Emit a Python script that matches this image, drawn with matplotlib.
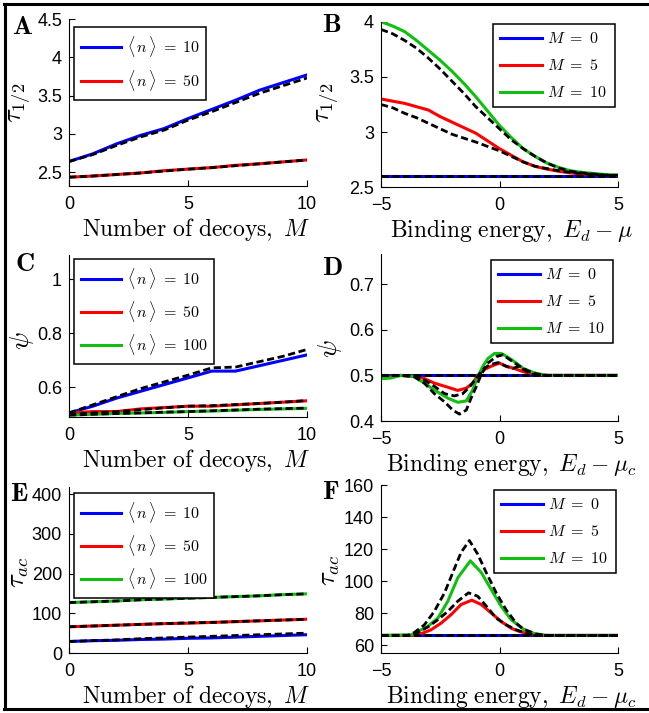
import matplotlib
matplotlib.use('Agg')
import matplotlib.pyplot as plt
from matplotlib.lines import Line2D

plt.rcParams['font.family'] = 'Liberation Sans'
plt.rcParams['mathtext.fontset'] = 'cm'

# ---- data ----
decoys = [0, 1, 2, 3, 4, 5, 6, 7, 8, 9, 10]

# A: tau_1/2 vs number of decoys
A_n10 = [2.64, 2.74, 2.87, 2.98, 3.07, 3.20, 3.32, 3.44, 3.57, 3.67, 3.77]
A_n10_th = [2.64, 2.73, 2.85, 2.96, 3.05, 3.18, 3.29, 3.41, 3.53, 3.63, 3.73]
A_n50 = [2.435, 2.45, 2.47, 2.49, 2.52, 2.54, 2.56, 2.59, 2.61, 2.635, 2.66]
A_n50_th = [2.435, 2.45, 2.47, 2.49, 2.515, 2.54, 2.56, 2.585, 2.61, 2.635, 2.66]

# B: tau_1/2 vs binding energy
energy = [-5, -4.5, -4, -3.5, -3, -2.5, -2, -1.5, -1, -0.5, 0,
          0.5, 1, 1.5, 2, 2.5, 3, 3.5, 4, 4.5, 5]
B_M0 = [2.605] * 21
B_M5 = [3.30, 3.28, 3.26, 3.23, 3.20, 3.14, 3.09, 3.04, 2.99, 2.92, 2.85,
        2.79, 2.73, 2.69, 2.665, 2.645, 2.63, 2.62, 2.615, 2.61, 2.605]
B_M5_th = [3.25, 3.22, 3.17, 3.13, 3.08, 3.03, 2.98, 2.945, 2.91, 2.87, 2.83,
           2.78, 2.73, 2.69, 2.67, 2.65, 2.635, 2.625, 2.615, 2.61, 2.605]
B_M10 = [4.00, 3.96, 3.91, 3.83, 3.74, 3.65, 3.55, 3.44, 3.32, 3.19, 3.06,
         2.95, 2.85, 2.78, 2.72, 2.68, 2.65, 2.635, 2.625, 2.615, 2.61]
B_M10_th = [3.93, 3.89, 3.83, 3.76, 3.67, 3.57, 3.46, 3.35, 3.23, 3.13, 3.03,
            2.93, 2.85, 2.78, 2.72, 2.675, 2.645, 2.63, 2.62, 2.61, 2.61]

# C: psi vs number of decoys
C_n10 = [0.505, 0.53, 0.56, 0.585, 0.61, 0.635, 0.66, 0.66, 0.68, 0.70, 0.72]
C_n10_th = [0.505, 0.535, 0.565, 0.595, 0.62, 0.645, 0.672, 0.675, 0.695, 0.715, 0.74]
C_n50 = [0.505, 0.51, 0.51, 0.52, 0.525, 0.53, 0.53, 0.535, 0.54, 0.545, 0.55]
C_n50_th = [0.50, 0.505, 0.51, 0.517, 0.524, 0.53, 0.532, 0.536, 0.54, 0.545, 0.551]
C_n100 = [0.497, 0.50, 0.503, 0.505, 0.507, 0.51, 0.512, 0.515, 0.518, 0.52, 0.522]
C_n100_th = [0.497, 0.50, 0.503, 0.505, 0.508, 0.51, 0.513, 0.516, 0.519, 0.521, 0.523]

# D: psi vs binding energy
D_M0_x = [-5, 5]
D_M0 = [0.5, 0.5]
D_M5_x = [-5, -4.2, -3.6, -3.17, -2.75, -2.18, -1.76, -1.4, -1.13, -0.92, -0.63,
          -0.35, 0.0, 0.28, 0.63, 1.0, 1.5, 2.0, 5]
D_M5 = [0.493, 0.5, 0.498, 0.493, 0.483, 0.474, 0.467, 0.472, 0.483, 0.5, 0.513,
        0.52, 0.527, 0.52, 0.515, 0.508, 0.502, 0.5, 0.5]
D_M5_th_x = [-5, -4.2, -3.6, -3.17, -2.75, -2.32, -1.9, -1.55, -1.27, -0.99, -0.7,
             -0.42, -0.07, 0.28, 0.56, 0.8, 1.1, 1.5, 5]
D_M5_th = [0.5, 0.5, 0.5, 0.49, 0.476, 0.46, 0.455, 0.46, 0.474, 0.493, 0.513,
           0.523, 0.528, 0.52, 0.515, 0.52, 0.51, 0.5, 0.5]
D_M10_x = [-5, -4.6, -4.15, -3.6, -3.17, -2.75, -2.18, -1.76, -1.4, -1.13, -0.92,
           -0.7, -0.49, -0.21, 0.07, 0.35, 0.63, 1.0, 1.5, 2.0, 5]
D_M10 = [0.493, 0.494, 0.5, 0.497, 0.483, 0.468, 0.45, 0.441, 0.444, 0.468, 0.497,
         0.52, 0.537, 0.548, 0.548, 0.54, 0.53, 0.515, 0.505, 0.5, 0.5]
D_M10_th_x = [-5, -4.2, -3.6, -3.17, -2.75, -2.32, -1.97, -1.69, -1.4, -1.2, -0.99,
              -0.77, -0.49, -0.14, 0.14, 0.56, 0.85, 1.2, 1.6, 2.0, 5]
D_M10_th = [0.5, 0.5, 0.497, 0.483, 0.46, 0.442, 0.424, 0.415, 0.424, 0.45, 0.474,
            0.502, 0.527, 0.541, 0.545, 0.53, 0.52, 0.51, 0.503, 0.5, 0.5]

# E: tau_ac vs number of decoys
E_n10 = [29, 31, 32, 34, 35, 37, 38, 40, 42, 44, 46]
E_n10_th = [29, 31, 33, 36, 38, 40, 42, 44, 46, 48, 50]
E_n50 = [66, 68, 70, 72, 74, 75, 77, 79, 81, 83, 85]
E_n50_th = [66, 68, 70, 72, 74, 76, 77, 79, 81, 83, 85]
E_n100 = [127, 129, 131, 134, 136, 138, 140, 142, 144, 147, 149]
E_n100_th = [127, 129, 131, 134, 136, 138, 140, 142, 144, 147, 149]

# F: tau_ac vs binding energy
F_M0_x = [-5, 5]
F_M0 = [66, 66]
F_M5_x = [-5, -3.59, -3.31, -2.89, -2.46, -2.04, -1.62, -1.17, -0.77, -0.35,
          0.07, 0.49, 0.85, 1.5, 5]
F_M5 = [66, 66, 67, 69.5, 73.7, 79, 85.3, 88, 85.3, 80, 74.7, 70.5, 68.4, 66, 66]
F_M5_th_x = [-5, -3.8, -3.45, -3.03, -2.6, -2.18, -1.76, -1.31, -0.92, -0.49,
             -0.14, 0.28, 0.7, 1.2, 1.6, 5]
F_M5_th = [66, 66, 67.8, 71.2, 75.8, 81, 87.4, 92.6, 90.5, 83.2, 76.8, 72.6,
           69.5, 67, 66, 66]
F_M10_x = [-5, -3.73, -3.45, -3.03, -2.6, -2.18, -1.76, -1.23, -0.77, -0.35,
           0.07, 0.49, 1.0, 1.5, 2.0, 5]
F_M10 = [66, 66.3, 68.4, 71.6, 76.8, 87.4, 102, 112.6, 105.3, 94.7, 84.2, 75.8,
         70, 67, 66, 66]
F_M10_th_x = [-5, -3.87, -3.59, -3.17, -2.75, -2.32, -1.97, -1.62, -1.27, -0.92,
              -0.56, -0.14, 0.28, 0.7, 1.0, 1.5, 2.0, 5]
F_M10_th = [66, 66.1, 67.8, 72.6, 81, 92.6, 105.3, 117.9, 125.3, 116.8, 105.3,
            92.6, 82, 73.7, 70, 67, 66, 66]

n_labels = [r'$\langle\, n\, \rangle\; =\; 10$', r'$\langle\, n\, \rangle\; =\; 50$',
            r'$\langle\, n\, \rangle\; =\; 100$']
M_labels = [r'$M\ =\ 0$', r'$M\ =\ 5$', r'$M\ =\ 10$']

BLUE, RED, GREEN = '#0000ff', '#ff0000', '#10c010'
W, H = 649, 713

fig = plt.figure(figsize=(W / 100, H / 100), dpi=100)


def make_axes(l, t, r, b):
    ax = fig.add_axes([l / W, 1 - b / H, (r - l) / W, (b - t) / H])
    ax.spines['top'].set_visible(False)
    ax.spines['right'].set_visible(False)
    for s in ('left', 'bottom'):
        ax.spines[s].set_linewidth(0.8)
    ax.tick_params(direction='in', length=4, width=0.8, labelsize=13, pad=5)
    ax.tick_params(axis='x', pad=7)
    return ax


def finish(ax, xlab, xc, ylab, ypos, letter, lpos, leg_labels, lg, colors, lsp, hl):
    h = ax.get_position().height * H
    ax.set_xlabel(xlab, fontsize=17)
    ax.xaxis.set_label_coords(xc, -30 / h)
    ax.set_ylabel(ylab, fontsize=19, va='center')
    ax.yaxis.set_label_coords(ypos[0] / W, 1 - ypos[1] / H, transform=fig.transFigure)
    fig.text(lpos[0] / W, 1 - lpos[1] / H, r'$\mathbf{' + letter + '}$', fontsize=19,
             ha='left', va='top')
    handles = [Line2D([], [], color=c, lw=2.2) for c in colors]
    leg = ax.legend(handles, leg_labels, loc='upper left',
                    bbox_to_anchor=(lg[0] / W, 1 - lg[1] / H),
                    bbox_transform=fig.transFigure, borderaxespad=0,
                    fancybox=False, framealpha=1, edgecolor='black',
                    fontsize=11.5, handlelength=hl, handletextpad=0.35,
                    labelspacing=lsp, borderpad=0.45)
    leg.get_frame().set_linewidth(1.1)


dash = (0, (2.6, 1.3))

# A
ax = make_axes(69, 19, 307, 186)
ax.plot(decoys, A_n10, color=BLUE, lw=2.2)
ax.plot(decoys, A_n50, color=RED, lw=2.2)
ax.plot(decoys, A_n10_th, color='black', lw=2, ls=dash)
ax.plot(decoys, A_n50_th, color='black', lw=2, ls=dash)
ax.set_xlim(0, 10)
ax.set_ylim(2.32, 4.5)
ax.set_xticks([0, 5, 10])
ax.set_yticks([2.5, 3, 3.5, 4, 4.5])
ax.set_yticklabels(['2.5', '3', '3.5', '4', '4.5'])
finish(ax, r'$\mathrm{Number\ of\ decoys,}\ M$', 0.534, r'$\tau_{1/2}$', (20, 103),
       'A', (12, 15), n_labels[:2], (74, 27), [BLUE, RED], 0.55, 2.5)

# B
ax = make_axes(381, 21.7, 618, 187.3)
ax.plot(energy, B_M0, color=BLUE, lw=2.2)
ax.plot(energy, B_M5, color=RED, lw=2.2)
ax.plot(energy, B_M10, color=GREEN, lw=2.2)
ax.plot(energy, B_M0, color='black', lw=2, ls=dash)
ax.plot(energy, B_M5_th, color='black', lw=2, ls=dash)
ax.plot(energy, B_M10_th, color='black', lw=2, ls=dash)
ax.set_xlim(-5, 5)
ax.set_ylim(2.5, 4.0)
ax.set_xticks([-5, 0, 5])
ax.set_yticks([2.5, 3, 3.5, 4])
ax.set_yticklabels(['2.5', '3', '3.5', '4'])
finish(ax, r'$\mathrm{Binding\ energy,}\ E_d - \mu$', 0.55, r'$\tau_{1/2}$', (328, 103),
       'B', (322, 13), M_labels, (493, 24), [BLUE, RED, GREEN], 0.75, 2.6)

# C
ax = make_axes(69, 255, 307, 417)
ax.plot(decoys, C_n10, color=BLUE, lw=2.2)
ax.plot(decoys, C_n50, color=RED, lw=2.2)
ax.plot(decoys, C_n100, color=GREEN, lw=2.2)
ax.plot(decoys, C_n10_th, color='black', lw=2, ls=dash)
ax.plot(decoys, C_n50_th, color='black', lw=2, ls=dash)
ax.plot(decoys, C_n100_th, color='black', lw=2, ls=dash)
ax.set_xlim(0, 10)
ax.set_ylim(0.49, 1.09)
ax.set_xticks([0, 5, 10])
ax.set_yticks([0.6, 0.8, 1.0])
ax.set_yticklabels(['0.6', '0.8', '1'])
finish(ax, r'$\mathrm{Number\ of\ decoys,}\ M$', 0.534, r'$\psi$', (22, 341),
       'C', (15, 252), n_labels, (74, 259), [BLUE, RED, GREEN], 0.5, 2.5)

# D
ax = make_axes(381, 254, 618, 421)
ax.plot(D_M0_x, D_M0, color=BLUE, lw=2.2)
ax.plot(D_M5_x, D_M5, color=RED, lw=2.2)
ax.plot(D_M10_x, D_M10, color=GREEN, lw=2.2)
ax.plot(D_M0_x, D_M0, color='black', lw=2, ls=dash)
ax.plot(D_M5_th_x, D_M5_th, color='black', lw=2, ls=dash)
ax.plot(D_M10_th_x, D_M10_th, color='black', lw=2, ls=dash)
ax.set_xlim(-5, 5)
ax.set_ylim(0.4, 0.766)
ax.set_xticks([-5, 0, 5])
ax.set_yticks([0.4, 0.5, 0.6, 0.7])
finish(ax, r'$\mathrm{Binding\ energy,}\ E_d - \mu_c$', 0.55, r'$\psi$', (330, 349),
       'D', (322, 256), M_labels, (491, 260), [BLUE, RED, GREEN], 0.75, 2.6)

# E
ax = make_axes(69, 487, 307, 653)
ax.plot(decoys, E_n10, color=BLUE, lw=2.2)
ax.plot(decoys, E_n50, color=RED, lw=2.2)
ax.plot(decoys, E_n100, color=GREEN, lw=2.2)
ax.plot(decoys, E_n10_th, color='black', lw=2, ls=dash)
ax.plot(decoys, E_n50_th, color='black', lw=2, ls=dash)
ax.plot(decoys, E_n100_th, color='black', lw=2, ls=dash)
ax.set_xlim(0, 10)
ax.set_ylim(0, 418)
ax.set_xticks([0, 5, 10])
ax.set_yticks([0, 100, 200, 300, 400])
finish(ax, r'$\mathrm{Number\ of\ decoys,}\ M$', 0.534, r'$\tau_{ac}$', (19, 572),
       'E', (10, 482), n_labels, (74, 493), [BLUE, RED, GREEN], 0.5, 2.5)

# F
ax = make_axes(381, 485, 618, 653)
ax.plot(F_M0_x, F_M0, color=BLUE, lw=2.2)
ax.plot(F_M5_x, F_M5, color=RED, lw=2.2)
ax.plot(F_M10_x, F_M10, color=GREEN, lw=2.2)
ax.plot(F_M0_x, F_M0, color='black', lw=2, ls=dash)
ax.plot(F_M5_th_x, F_M5_th, color='black', lw=2, ls=dash)
ax.plot(F_M10_th_x, F_M10_th, color='black', lw=2, ls=dash)
ax.set_xlim(-5, 5)
ax.set_ylim(55, 160)
ax.set_xticks([-5, 0, 5])
ax.set_yticks([60, 80, 100, 120, 140, 160])
finish(ax, r'$\mathrm{Binding\ energy,}\ E_d - \mu_c$', 0.55, r'$\tau_{ac}$', (330, 570),
       'F', (322, 480), M_labels, (494, 490), [BLUE, RED, GREEN], 0.75, 2.6)

# outer frame (right side is cropped in the reference)
for xs, ys in [((4 / W, 1), (1 - 4 / H, 1 - 4 / H)),
               ((5 / W, 5 / W), (1 - 4 / H, 1 - 709 / H)),
               ((4 / W, 1), (1 - 709 / H, 1 - 709 / H))]:
    fig.add_artist(Line2D(xs, ys, color='black', lw=2.2,
                          transform=fig.transFigure))

fig.savefig('out.png', dpi=100)
